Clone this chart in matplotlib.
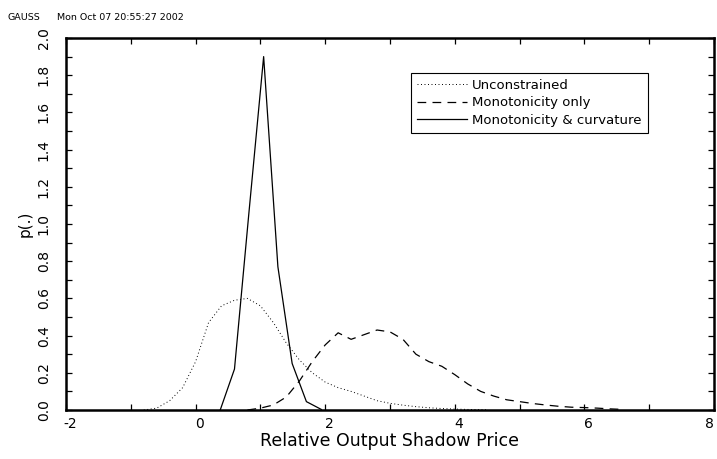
import matplotlib
matplotlib.use("Agg")
import matplotlib.pyplot as plt
import matplotlib.transforms as mtransforms
from matplotlib.ticker import MultipleLocator, FixedLocator

plt.rcParams["font.family"] = ["DejaVu Sans"]

# Posterior densities of the relative output shadow price
unc_x = [-0.8, -0.6, -0.4, -0.2, 0.0, 0.2, 0.4, 0.6, 0.8, 1.0, 1.2, 1.4, 1.6,
         1.8, 2.0, 2.2, 2.4, 2.6, 2.8, 3.0, 3.2, 3.4, 3.6, 3.8, 4.0, 4.2, 4.5]
unc_y = [0.0, 0.01, 0.05, 0.12, 0.26, 0.47, 0.56, 0.59, 0.60, 0.56, 0.47, 0.36,
         0.27, 0.20, 0.15, 0.12, 0.10, 0.075, 0.05, 0.036, 0.026, 0.018, 0.012,
         0.008, 0.005, 0.003, 0.001]

mono_x = [0.8, 1.0, 1.2, 1.4, 1.6, 1.8, 2.0, 2.2, 2.4, 2.6, 2.8, 3.0, 3.2, 3.4,
          3.6, 3.8, 4.0, 4.2, 4.4, 4.6, 4.8, 5.0, 5.2, 5.4, 5.6, 5.8, 6.0, 6.2,
          6.4, 6.6]
mono_y = [0.0, 0.01, 0.027, 0.07, 0.155, 0.26, 0.35, 0.415, 0.38, 0.405, 0.43,
          0.42, 0.38, 0.30, 0.26, 0.235, 0.19, 0.14, 0.10, 0.075, 0.055, 0.045,
          0.035, 0.027, 0.02, 0.015, 0.013, 0.01, 0.006, 0.003]

curv_x = [0.38, 0.60, 0.82, 1.05, 1.27, 1.49, 1.71, 1.94]
curv_y = [0.0, 0.22, 1.05, 1.90, 0.77, 0.25, 0.045, 0.003]

series_labels = ["Unconstrained", "Monotonicity only", "Monotonicity & curvature"]

x_ticks = [-2, 0, 2, 4, 6, 8]
x_tick_labels = ["-2", "0", "2", "4", "6", "8"]
y_ticks = [0.0, 0.2, 0.4, 0.6, 0.8, 1.0, 1.2, 1.4, 1.6, 1.8, 2.0]
y_tick_labels = ["0.0", "0.2", "0.4", "0.6", "0.8", "1.0", "1.2", "1.4", "1.6", "1.8", "2.0"]

W, H = 717, 459
fig = plt.figure(figsize=(W / 100, H / 100), dpi=100)
left, right, top, bottom = 66, 714, 38, 410
ax = fig.add_axes([left / W, 1 - bottom / H, (right - left) / W, (bottom - top) / H])

ax.plot(unc_x, unc_y, color="black", lw=0.7, linestyle=(0, (1, 2.6)),
        label=series_labels[0])
ax.plot(mono_x, mono_y, color="black", lw=0.9, linestyle=(0, (7, 5)),
        label=series_labels[1])
ax.plot(curv_x, curv_y, color="black", lw=0.9, linestyle="-",
        label=series_labels[2])

ax.set_xlim(-2, 8)
ax.set_ylim(0, 2.0)

ax.xaxis.set_major_locator(FixedLocator(x_ticks))
ax.set_xticklabels(x_tick_labels)
ax.xaxis.set_minor_locator(MultipleLocator(1))
ax.yaxis.set_major_locator(FixedLocator(y_ticks))
ax.set_yticklabels(y_tick_labels, rotation=90, va="center")
ax.yaxis.set_minor_locator(MultipleLocator(0.1))

ax.tick_params(which="both", direction="in", top=True, right=True,
               length=4, width=0.9, labelsize=10, pad=5)
ax.tick_params(axis="y", which="both", pad=11)

# nudge the inner x tick labels slightly to the right of their ticks
shift = mtransforms.ScaledTranslation(4 / 100, 0, fig.dpi_scale_trans)
for lbl in ax.get_xticklabels()[:-1]:
    lbl.set_transform(lbl.get_transform() + shift)
ax.get_xticklabels()[-1].set_horizontalalignment("right")

for sp in ax.spines.values():
    sp.set_linewidth(1.8)

ax.set_xlabel("Relative Output Shadow Price", fontsize=12.5, labelpad=1)
ax.set_ylabel("p(.)", fontsize=11, labelpad=3)

leg = ax.legend(loc="upper left", bbox_to_anchor=((411 - left) / (right - left),
                (bottom - 73) / (bottom - top)),
                borderaxespad=0, fancybox=False, framealpha=1, edgecolor="black",
                fontsize=9.5, handlelength=3.8, handletextpad=0.4,
                labelspacing=0.33, borderpad=0.45)
leg.get_frame().set_linewidth(0.8)

fig.text(7 / W, 1 - 17 / H, "GAUSS", fontsize=6.8, va="center")
fig.text(57 / W, 1 - 17 / H, "Mon Oct 07 20:55:27 2002", fontsize=6.8, va="center")

fig.savefig("out.png", dpi=100)
